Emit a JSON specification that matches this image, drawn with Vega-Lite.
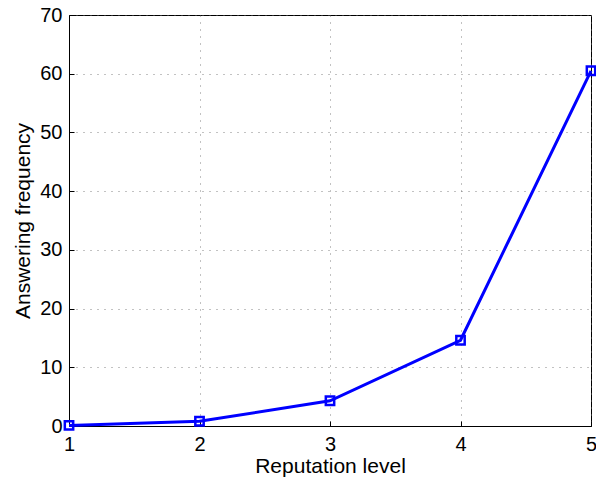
{
  "$schema": "https://vega.github.io/schema/vega-lite/v6.json",
  "width": 522,
  "height": 411,
  "autosize": {"type": "none"},
  "padding": {"left": 69, "top": 15, "right": 5, "bottom": 56},
  "background": "white",
  "config": {
    "font": "Liberation Sans",
    "view": {"stroke": "black", "strokeWidth": 1},
    "axis": {
      "domainColor": "black",
      "domainWidth": 1,
      "tickColor": "black",
      "tickSize": -5,
      "labelColor": "black",
      "titleColor": "black",
      "labelFont": "Liberation Sans",
      "titleFont": "Liberation Sans",
      "labelFontSize": 20,
      "titleFontSize": 21,
      "titleFontWeight": "normal",
      "gridColor": "#666666",
      "gridDash": [1, 6],
      "gridWidth": 1,
      "gridOpacity": 0.8,
      "labelFlush": false
    }
  },
  "data": {
    "values": [
      {"level": 1, "freq": 0.1},
      {"level": 2, "freq": 0.8},
      {"level": 3, "freq": 4.3},
      {"level": 4, "freq": 14.6},
      {"level": 5, "freq": 60.5}
    ]
  },
  "layer": [
    {
      "mark": {"type": "line", "color": "#0000FF", "strokeWidth": 3, "clip": false},
      "encoding": {
        "x": {
          "field": "level", "type": "quantitative",
          "scale": {"domain": [1, 5], "nice": false, "zero": false},
          "axis": {"values": [1, 2, 3, 4, 5], "title": "Reputation level", "labelPadding": 13, "titlePadding": 1, "grid": true, "format": "d"}
        },
        "y": {
          "field": "freq", "type": "quantitative",
          "scale": {"domain": [0, 70], "nice": false},
          "axis": {"values": [0, 10, 20, 30, 40, 50, 60, 70], "title": "Answering frequency", "labelPadding": 12, "titlePadding": 6, "grid": true}
        }
      }
    },
    {
      "mark": {"type": "point", "shape": "square", "filled": false, "color": "#0000FF", "strokeWidth": 2.5, "size": 70, "opacity": 1, "clip": false},
      "encoding": {
        "x": {"field": "level", "type": "quantitative"},
        "y": {"field": "freq", "type": "quantitative"}
      }
    }
  ]
}
